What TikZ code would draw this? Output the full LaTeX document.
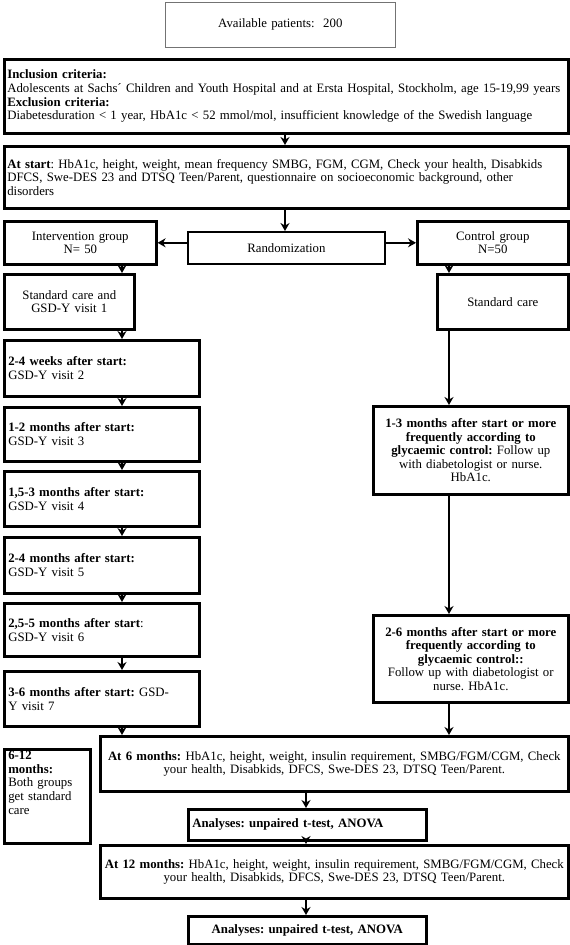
\documentclass[tikz,border=0pt]{standalone}
\usepackage{fontspec}
\setmainfont{Liberation Serif}
\usetikzlibrary{arrows.meta}
\usetikzlibrary{positioning}
\frenchspacing

\begin{document}
\begin{tikzpicture}[x=1pt, y=-1pt, >={Stealth[length=8pt,width=9pt]},
	box/.style={draw, line width=2.6pt, anchor=north west, inner xsep=4pt, inner ysep=2pt, font=\fontsize{12.8}{13.6}\selectfont},
	link/.style={->, line width=2pt}]
			\useasboundingbox (0,0) rectangle (570,945);
			%coordinates
			\coordinate (lcol) at (122,0);
			\coordinate (mcol) at (285,0);
			\coordinate (acol) at (306,0);
			\coordinate (rcol) at (449,0);
			
			%nodes
			\node[box, line width=.6pt, draw=black!55, text width=222pt, minimum height=45pt, align=center] (avail) at (165,2) {Available patients:~~200};
			\node[box, inner xsep=3pt, text width=558pt, minimum height=74pt, align=left] (incl) at (3,58) {\textbf{Inclusion criteria:}\\Adolescents at Sachs´ Children and Youth Hospital and at Ersta Hospital, Stockholm, age 15-19,99 years\\\textbf{Exclusion criteria:}\\Diabetesduration < 1 year, HbA1c < 52 mmol/mol, insufficient knowledge of the Swedish language};
			\node[box, inner xsep=3pt, text width=558pt, minimum height=62pt, align=left] (start) at (3,145) {\textbf{At start}: HbA1c, height, weight, mean frequency SMBG, FGM, CGM, Check your health, Disabkids\\DFCS, Swe-DES 23 and DTSQ Teen/Parent, questionnaire on socioeconomic background, other\\disorders};
			
			\node[box, text width=144pt, minimum height=43pt, align=center] (interv) at (3,220) {Intervention group\\N= 50};
			\node[box, line width=1.8pt, text width=189pt, minimum height=32pt, align=center] (rand) at (187,231) {Randomization};
			\node[box, text width=143pt, minimum height=43pt, align=center] (ctrl) at (416,220) {Control group\\N=50};
			
			\node[box, text width=122pt, minimum height=55pt, align=center] (sc1) at (3,273) {Standard care and\\GSD-Y visit 1};
			\node[box, text width=123pt, minimum height=55pt, align=center] (sc2) at (436,273) {Standard care};
			
			\node[box, text width=187pt, minimum height=56pt, align=left] (v2) at (3,339) {\textbf{2-4 weeks after start:}\\GSD-Y visit 2};
			\node[box, text width=187pt, minimum height=54pt, align=left] (v3) at (3,406) {\textbf{1-2 months after start:}\\GSD-Y visit 3};
			\node[box, text width=187pt, minimum height=55pt, align=left] (v4) at (3,470) {\textbf{1,5-3 months after start:}\\GSD-Y visit 4};
			\node[box, text width=187pt, minimum height=56pt, align=left] (v5) at (3,536) {\textbf{2-4 months after start:}\\GSD-Y visit 5};
			\node[box, text width=187pt, minimum height=53pt, align=left] (v6) at (3,602) {\textbf{2,5-5 months after start}:\\GSD-Y visit 6};
			\node[box, text width=187pt, minimum height=55pt, align=left] (v7) at (3,670) {\textbf{3-6 months after start:} GSD-\\Y visit 7};
			
			\node[box, text width=187pt, minimum height=88pt, align=center] (f13) at (372,405) {\textbf{1-3 months after start or more}\\\textbf{frequently according to}\\\textbf{glycaemic control:} Follow up\\with diabetologist or nurse.\\HbA1c.};
			\node[box, text width=187pt, minimum height=87pt, align=center] (f26) at (372,614) {\textbf{2-6 months after start or more}\\\textbf{frequently according to}\\\textbf{glycaemic control::}\\Follow up with diabetologist or\\nurse. HbA1c.};
			
			\node[box, text width=460pt, minimum height=55pt, align=center] (m6) at (99,735) {\textbf{At 6 months:} HbA1c, height, weight, insulin requirement, SMBG/FGM/CGM, Check\\your health, Disabkids, DFCS, Swe-DES 23, DTSQ Teen/Parent.};
			\node[box, text width=78pt, minimum height=89pt, align=left] (both) at (3,748) {\textbf{6-12}\\\textbf{months:}\\Both groups\\get standard\\care\\~\\~};
			\node[box, text width=230pt, minimum height=31pt, align=left] (an1) at (187,808) {\textbf{Analyses: unpaired t-test, ANOVA}};
			\node[box, text width=460pt, minimum height=53pt, align=center] (m12) at (99,844) {\textbf{At 12 months:} HbA1c, height, weight, insulin requirement, SMBG/FGM/CGM, Check\\your health, Disabkids, DFCS, Swe-DES 23, DTSQ Teen/Parent.};
			\node[box, text width=230pt, minimum height=28pt, align=center] (an2) at (187,915) {\textbf{Analyses: unpaired t-test, ANOVA}};
			
			%arrows
			\draw[link] (incl.south -| mcol) -- (start.north -| mcol);
			\draw[link] (start.south -| mcol) -- (rand.north -| mcol);
			\draw[link] (rand.west |- interv.east) -- (interv.east);
			\draw[link] (rand.east |- ctrl.west) -- (ctrl.west);
			\foreach \a/\b in {interv/sc1, sc1/v2, v2/v3, v3/v4, v4/v5, v5/v6, v6/v7, v7/m6}
				\draw[link] (\a.south -| lcol) -- (\b.north -| lcol);
			\foreach \a/\b in {ctrl/sc2, sc2/f13, f13/f26, f26/m6}
				\draw[link] (\a.south -| rcol) -- (\b.north -| rcol);
			\foreach \a/\b in {m6/an1, an1/m12, m12/an2}
				\draw[link] (\a.south -| acol) -- (\b.north -| acol);
\end{tikzpicture}
\end{document}
